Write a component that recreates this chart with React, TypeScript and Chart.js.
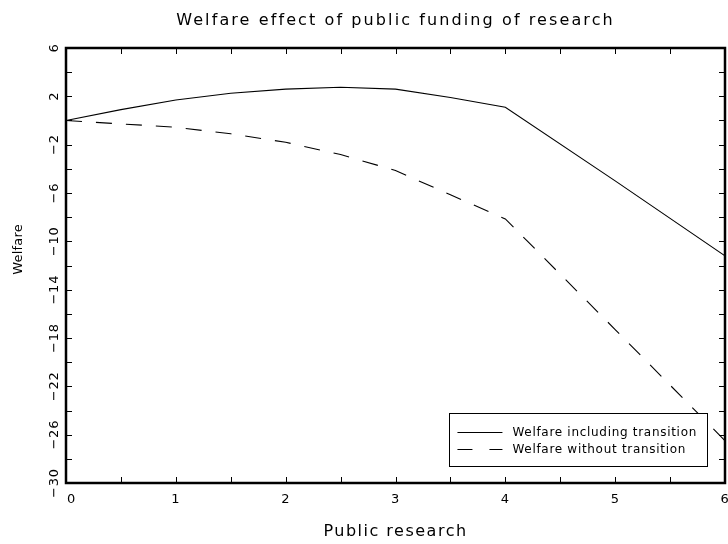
import React, { useEffect, useRef } from "react";
import { Chart, registerables } from "chart.js";

Chart.register(...registerables);

// Amount of public research funding (x) and resulting welfare (y)
const publicResearch = [0, 0.5, 1, 1.5, 2, 2.5, 3, 3.5, 4, 5, 6];
const welfareIncludingTransition = [0, 0.9, 1.7, 2.25, 2.6, 2.75, 2.6, 1.9, 1.1, -5.0, -11.2];
const welfareWithoutTransition = [0, -0.28, -0.56, -1.1, -1.8, -2.82, -4.14, -6.15, -8.15, -17.3, -26.5];

const seriesLabels = ["Welfare including transition", "Welfare without transition"];
const xTickValues = [0, 1, 2, 3, 4, 5, 6];
const yTickValues = [6, 2, -2, -6, -10, -14, -18, -22, -26, -30];

const chartTitle = "Welfare effect of public funding of research";
const xAxisTitle = "Public research";
const yAxisTitle = "Welfare";

const FONT_FAMILY = '"DejaVu Sans", sans-serif';
const DASH = [16, 14];

function fmt(v: number): string {
  return v < 0 ? "\u2212" + Math.abs(v) : String(v);
}

function setFont(ctx: CanvasRenderingContext2D, size: number, spacing: number, family = FONT_FAMILY) {
  ctx.font = `${size}px ${family}`;
  (ctx as any).letterSpacing = `${spacing}px`;
}

const framePlugin = {
  id: "frame",
  afterDatasetsDraw(chart: any) {
    const { ctx, chartArea: a, scales } = chart;
    const xs = scales.x;
    const ys = scales.y;
    ctx.save();
    ctx.fillStyle = "#000";
    ctx.strokeStyle = "#000";

    // legend box inside the lower-right corner of the plot
    const legSize = 12;
    setFont(ctx, legSize, 0.7);
    const textW = Math.max(...seriesLabels.map((s) => ctx.measureText(s).width));
    const sampleW = 45;
    const boxW = 8 + sampleW + 10 + textW + 10;
    const boxH = 53;
    const boxR = a.right - 18;
    const boxB = a.bottom - 17;
    const boxL = boxR - boxW;
    const boxT = boxB - boxH;
    ctx.fillStyle = "#fff";
    ctx.fillRect(boxL, boxT, boxW, boxH);
    ctx.lineWidth = 1;
    ctx.strokeRect(Math.round(boxL) + 0.5, Math.round(boxT) + 0.5, Math.round(boxW), Math.round(boxH));
    ctx.fillStyle = "#000";
    const rows = [boxT + 19, boxT + 36];
    seriesLabels.forEach((label, i) => {
      const ry = Math.round(rows[i]) + 0.5;
      ctx.beginPath();
      ctx.lineWidth = 1.1;
      ctx.setLineDash(i === 1 ? [15, 17] : []);
      ctx.moveTo(boxL + 8, ry);
      ctx.lineTo(boxL + 8 + sampleW, ry);
      ctx.stroke();
      ctx.setLineDash([]);
      ctx.textAlign = "left";
      ctx.textBaseline = "alphabetic";
      ctx.fillText(label, boxL + 8 + sampleW + 10, rows[i] + legSize * 0.73 / 2);
    });

    // plot frame
    ctx.lineWidth = 2.5;
    ctx.strokeRect(a.left, a.top, a.right - a.left, a.bottom - a.top);

    // inward tick marks on all four sides (major and minor)
    ctx.lineWidth = 1;
    ctx.beginPath();
    const tickLen = 6;
    for (let i = 0; i < xTickValues.length; i++) {
      const vals = [xTickValues[i]];
      if (i < xTickValues.length - 1) vals.push((xTickValues[i] + xTickValues[i + 1]) / 2);
      vals.forEach((v) => {
        const px = Math.round(xs.getPixelForValue(v)) + 0.5;
        ctx.moveTo(px, a.bottom);
        ctx.lineTo(px, a.bottom - tickLen);
        ctx.moveTo(px, a.top);
        ctx.lineTo(px, a.top + tickLen);
      });
    }
    for (let i = 0; i < yTickValues.length; i++) {
      const vals = [yTickValues[i]];
      if (i < yTickValues.length - 1) vals.push((yTickValues[i] + yTickValues[i + 1]) / 2);
      vals.forEach((v) => {
        const py = Math.round(ys.getPixelForValue(v)) + 0.5;
        ctx.moveTo(a.left, py);
        ctx.lineTo(a.left + tickLen, py);
        ctx.moveTo(a.right, py);
        ctx.lineTo(a.right - tickLen, py);
      });
    }
    ctx.stroke();

    // x tick labels
    const tickSize = 13;
    setFont(ctx, tickSize, 0.8);
    ctx.textBaseline = "alphabetic";
    xTickValues.forEach((v, i) => {
      const px = xs.getPixelForValue(v);
      ctx.textAlign = i === 0 ? "left" : "center";
      ctx.fillText(fmt(v), i === 0 ? px + 1 : px, a.bottom + 15 + tickSize * 0.73 / 2);
    });

    // y tick labels, rotated to read upward
    setFont(ctx, tickSize, 0.8);
    yTickValues.forEach((v) => {
      const py = ys.getPixelForValue(v);
      ctx.save();
      ctx.translate(a.left - 13 + tickSize * 0.73 / 2, py);
      ctx.rotate(-Math.PI / 2);
      ctx.textAlign = "center";
      ctx.fillText(fmt(v), 0, 0);
      ctx.restore();
    });

    // titles
    const titleSize = 16;
    setFont(ctx, titleSize, 2.1);
    ctx.textAlign = "center";
    const cx = (a.left + a.right) / 2;
    ctx.fillText(chartTitle, cx, 19 + titleSize * 0.73 / 2);
    setFont(ctx, titleSize, 1.5);
    ctx.fillText(xAxisTitle, cx, a.bottom + 47 + titleSize * 0.73 / 2);

    const ySize = 13;
    setFont(ctx, ySize, 0.2);
    ctx.save();
    ctx.translate(17 + ySize * 0.73 / 2, (a.top + a.bottom) / 2 - 16);
    ctx.rotate(-Math.PI / 2);
    ctx.textAlign = "center";
    ctx.fillText(yAxisTitle, 0, 0);
    ctx.restore();

    ctx.restore();
  },
};

export default function App() {
  const canvasRef = useRef<HTMLCanvasElement | null>(null);

  useEffect(() => {
    const canvas = canvasRef.current;
    if (!canvas) return;
    const toPoints = (ys: number[]) => publicResearch.map((x, i) => ({ x, y: ys[i] }));
    const chart = new Chart(canvas, {
      type: "line",
      data: {
        datasets: [
          {
            label: seriesLabels[0],
            data: toPoints(welfareIncludingTransition),
            borderColor: "#000",
            borderWidth: 1.1,
            pointRadius: 0,
            tension: 0,
            fill: false,
          },
          {
            label: seriesLabels[1],
            data: toPoints(welfareWithoutTransition),
            borderColor: "#000",
            borderWidth: 1.1,
            borderDash: DASH,
            pointRadius: 0,
            tension: 0,
            fill: false,
          },
        ],
      },
      options: {
        responsive: false,
        devicePixelRatio: 1,
        animation: false,
        layout: { padding: { left: 66, right: 3, top: 48, bottom: 61 } },
        plugins: {
          legend: { display: false },
          title: { display: false },
          tooltip: { enabled: false },
        },
        scales: {
          x: { type: "linear", min: 0, max: 6, display: false },
          y: { type: "linear", min: -30, max: 6, display: false },
        },
      },
      plugins: [framePlugin],
    });
    return () => chart.destroy();
  }, []);

  return (
    <div style={{ position: "fixed", left: 0, top: 0, width: 728, height: 544, background: "#fff" }}>
      <canvas ref={canvasRef} width={728} height={544} style={{ display: "block" }} />
    </div>
  );
}
